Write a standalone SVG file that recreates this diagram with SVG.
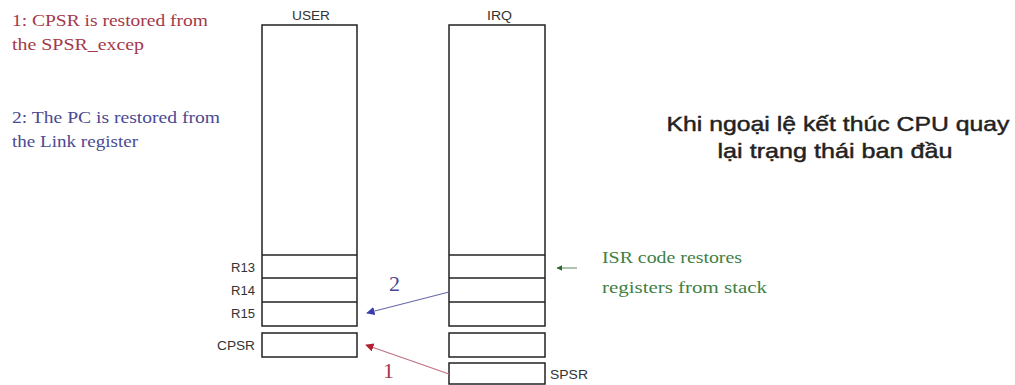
<svg xmlns="http://www.w3.org/2000/svg" width="1015" height="385" viewBox="0 0 1015 385">
<defs>
<style>
.box{fill:#fff;stroke:#222;stroke-width:1.5}
.sep{stroke:#222;stroke-width:1.5}
.lbl{font-family:"Liberation Sans",Arial,sans-serif;font-size:12px;fill:#333}
.serif{font-family:"Liberation Serif","Times New Roman",serif;font-size:17px}
.red{fill:#a3394a}
.blue{fill:#4a4a92}
.green{fill:#3f7f45}
.title{font-family:"Liberation Sans",Arial,sans-serif;font-size:21px;fill:#222;stroke:#222;stroke-width:0.45;text-anchor:middle}
.num{font-family:"Liberation Serif","Times New Roman",serif;font-size:22px}
</style>
<marker id="ab" viewBox="0 0 10 10" refX="9" refY="5" markerWidth="7" markerHeight="7" orient="auto"><path d="M0,0 L10,5 L0,10 z" fill="#3b3bb0"/></marker>
<marker id="ar" viewBox="0 0 10 10" refX="9" refY="5" markerWidth="7" markerHeight="7" orient="auto"><path d="M0,0 L10,5 L0,10 z" fill="#b02030"/></marker>
<marker id="ag" viewBox="0 0 10 10" refX="9" refY="5" markerWidth="6" markerHeight="6" orient="auto"><path d="M0,0 L10,5 L0,10 z" fill="#2f6a35"/></marker>
</defs>
<rect width="1015" height="385" fill="#fff"/>

<g id="notes">
<text class="serif red" x="12" y="26" textLength="196" lengthAdjust="spacingAndGlyphs">1: CPSR is restored from</text>
<text class="serif red" x="12" y="50" textLength="132" lengthAdjust="spacingAndGlyphs">the SPSR_excep</text>
<text class="serif blue" x="12" y="123" textLength="208" lengthAdjust="spacingAndGlyphs">2: The PC is restored from</text>
<text class="serif blue" x="12" y="147" textLength="126" lengthAdjust="spacingAndGlyphs">the Link register</text>
</g>

<g id="user">
<text class="lbl" x="292" y="20" textLength="38" lengthAdjust="spacingAndGlyphs">USER</text>
<rect class="box" x="262" y="25" width="95" height="301"/>
<line class="sep" x1="262" y1="255" x2="357" y2="255"/>
<line class="sep" x1="262" y1="278" x2="357" y2="278"/>
<line class="sep" x1="262" y1="302" x2="357" y2="302"/>
<text class="lbl" x="231" y="272" textLength="24" lengthAdjust="spacingAndGlyphs">R13</text>
<text class="lbl" x="231" y="295" textLength="24" lengthAdjust="spacingAndGlyphs">R14</text>
<text class="lbl" x="231" y="318" textLength="24" lengthAdjust="spacingAndGlyphs">R15</text>
</g>
<g id="user-cpsr">
<rect class="box" x="262" y="333" width="95" height="24"/>
<text class="lbl" x="217" y="350" textLength="38" lengthAdjust="spacingAndGlyphs">CPSR</text>
</g>

<g id="irq">
<text class="lbl" x="487" y="20" textLength="25" lengthAdjust="spacingAndGlyphs">IRQ</text>
<rect class="box" x="449" y="25" width="96" height="301"/>
<line class="sep" x1="449" y1="255" x2="545" y2="255"/>
<line class="sep" x1="449" y1="278" x2="545" y2="278"/>
<line class="sep" x1="449" y1="302" x2="545" y2="302"/>
</g>
<g id="irq-cpsr">
<rect class="box" x="449" y="333" width="96" height="24"/>
</g>
<g id="irq-spsr">
<rect class="box" x="449" y="363" width="96" height="21"/>
<text class="lbl" x="550" y="379" textLength="38" lengthAdjust="spacingAndGlyphs">SPSR</text>
</g>

<g id="connectors">
<line x1="449" y1="292" x2="367" y2="313" stroke="#6a6aa8" stroke-width="1.2" marker-end="url(#ab)"/>
<line x1="449" y1="374" x2="366" y2="345" stroke="#c07080" stroke-width="1.2" marker-end="url(#ar)"/>
<line x1="577" y1="268" x2="557" y2="268" stroke="#5a8a5e" stroke-width="1" marker-end="url(#ag)"/>
<text class="num blue" x="389" y="291">2</text>
<text class="num red" x="383" y="378">1</text>
</g>

<g id="isr-note">
<text class="serif green" x="602" y="263" textLength="140" lengthAdjust="spacingAndGlyphs">ISR code restores</text>
<text class="serif green" x="602" y="293" textLength="165" lengthAdjust="spacingAndGlyphs">registers from stack</text>
</g>

<g id="title">
<text class="title" x="838" y="131" textLength="343" lengthAdjust="spacingAndGlyphs">Khi ngoại lệ kết thúc CPU quay</text>
<text class="title" x="835" y="158" textLength="235" lengthAdjust="spacingAndGlyphs">lại trạng thái ban đầu</text>
</g>
</svg>
